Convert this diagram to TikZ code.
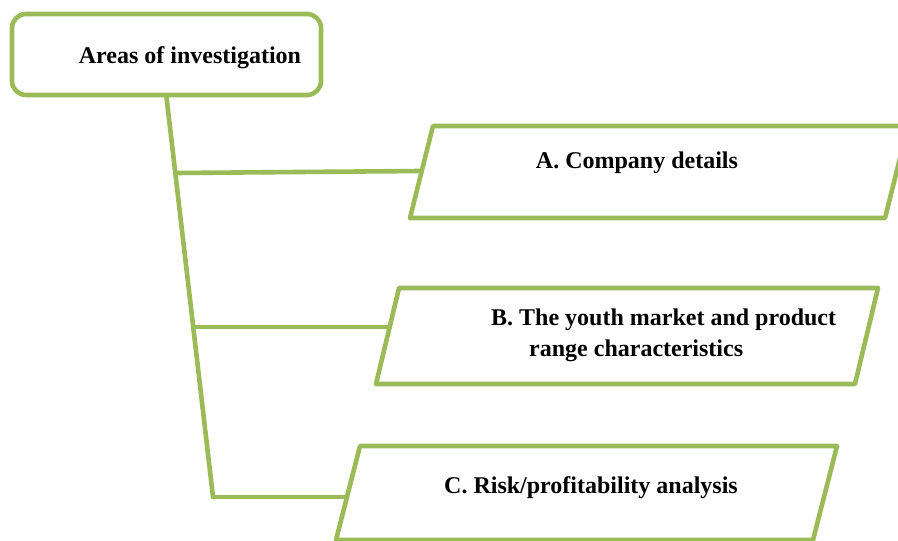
\documentclass[tikz,border=0pt]{standalone}
\usepackage{fontspec}
\setmainfont{Liberation Serif}
\definecolor{olivegreen}{HTML}{9BBB59}
\begin{document}
\begin{tikzpicture}[x=1pt,y=-1pt,
  greenline/.style={draw=olivegreen,line width=4.6pt,line join=round,line cap=round},
  lbl/.style={font=\fontsize{24}{31}\selectfont\bfseries,inner sep=0pt,text=black}]
\useasboundingbox (0,0) rectangle (898,541);
% top box
\node[greenline,rounded corners=14pt,minimum width=309pt,minimum height=81pt,inner sep=0pt] (top) at (166.5,54.5) {};
\node[lbl,anchor=base] (toplbl) at (190,63) {Areas of investigation};
% parallelograms
\draw[greenline,fill=white] (433,126) coordinate (a1) -- (908,126) -- (885,218) -- (410,218) coordinate (a2) -- cycle;
\draw[greenline,fill=white] (399,288) coordinate (b1) -- (878,288) -- (855,384) -- (376,384) coordinate (b2) -- cycle;
\draw[greenline,fill=white] (360,446) coordinate (c1) -- (837,446) -- (813,540) -- (336,540) coordinate (c2) -- cycle;
\node[lbl,anchor=base] (la) at (637,168) {A. Company details};
\node[lbl,anchor=base west] (lb) at (491,325) {B. The youth market and product};
\node[lbl,anchor=base west] (lb2) at (529,356) {range characteristics};
\node[lbl,anchor=base] (lc) at (591,493) {C. Risk/profitability analysis};
% connectors
\coordinate (ta) at (176,173);
\coordinate (tb) at (194,327);
\coordinate (tc) at (213,497);
\coordinate (ea) at (421,171);
\coordinate (eb) at (390,327);
\coordinate (ec) at (347,497);
\draw[greenline] (top.south) -- (tc);
\draw[greenline] (ta) -- (ea);
\draw[greenline] (tb) -- (eb);
\draw[greenline] (tc) -- (ec);
\end{tikzpicture}
\end{document}
